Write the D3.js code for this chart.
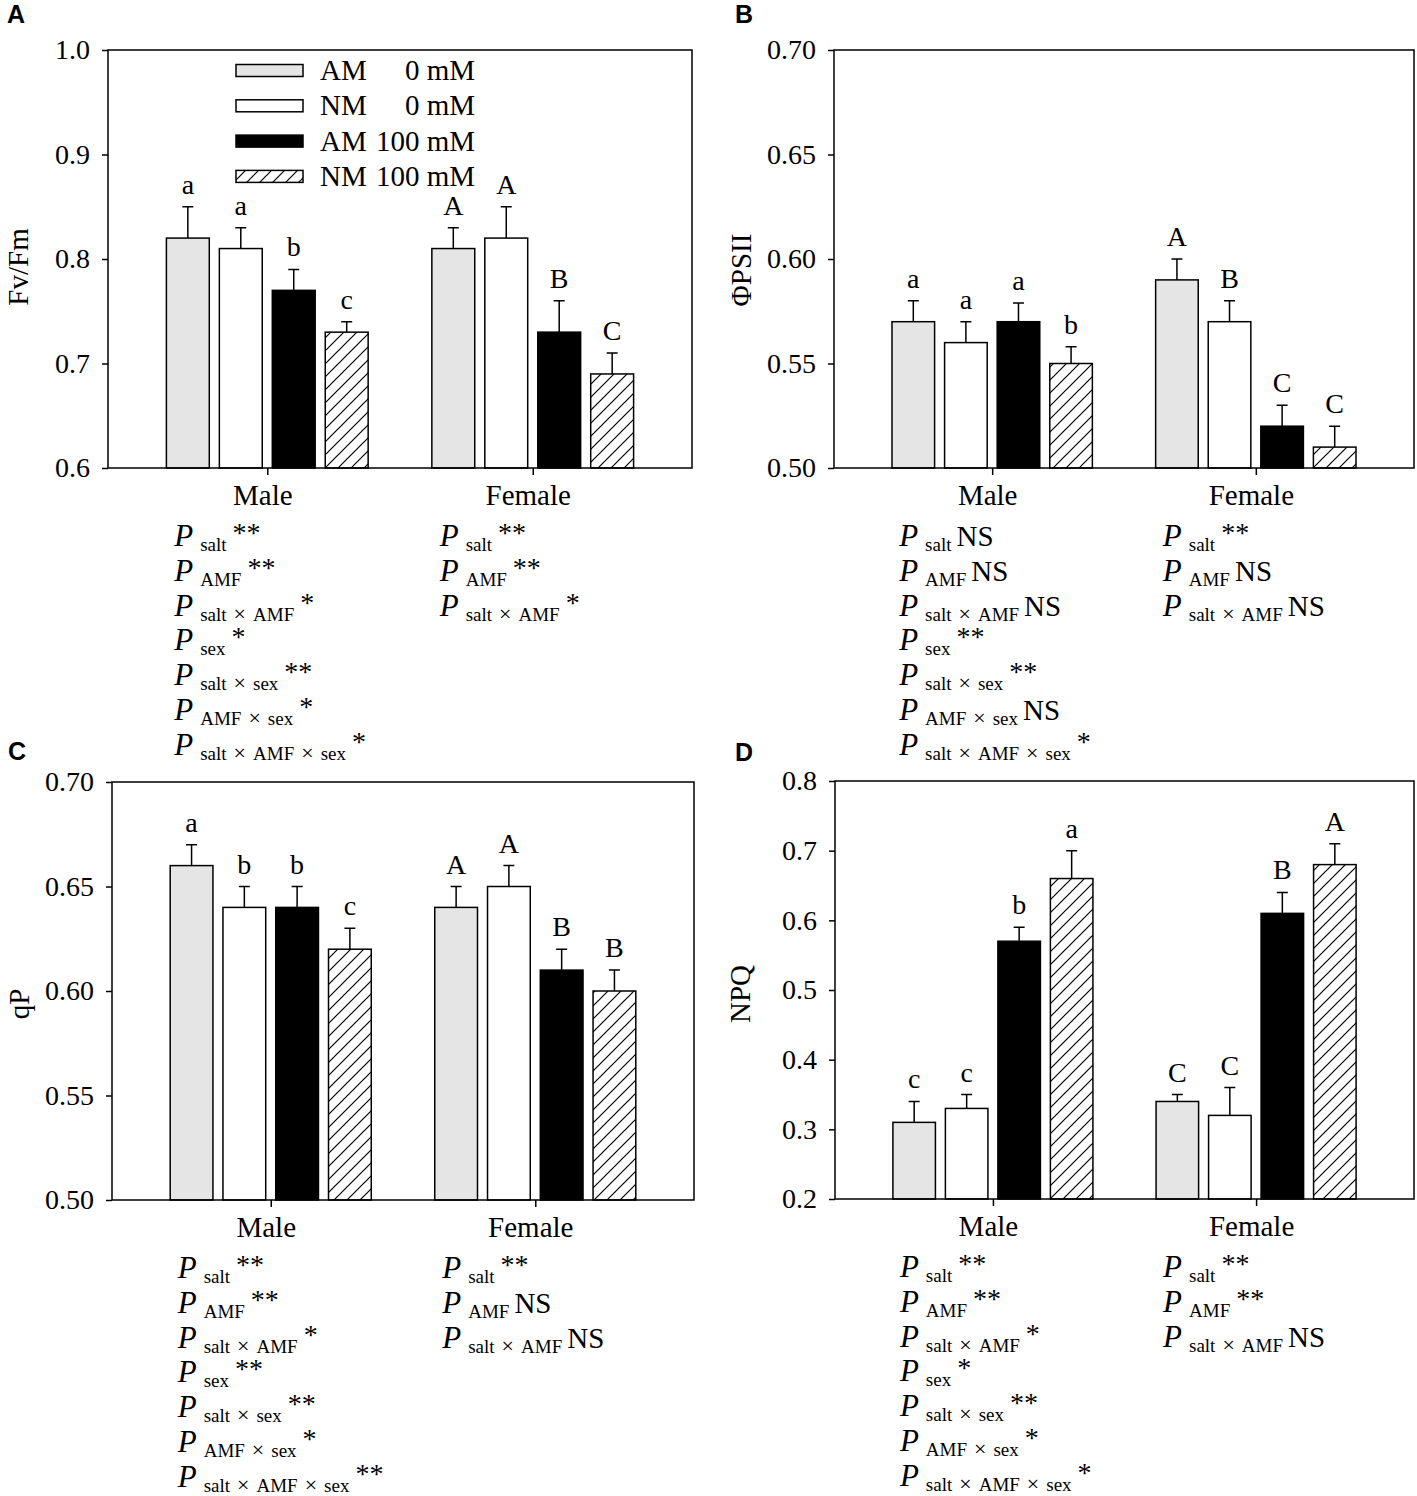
<!DOCTYPE html>
<html>
<head>
<meta charset="utf-8">
<script src="https://cdn.jsdelivr.net/npm/d3@7"></script>
<style>
  body { margin: 0; background: #fff; }
</style>
</head>
<body>
<svg id="fig" width="1417" height="1496"></svg>
<script>
// Categories and treatments
const groups = ["Male", "Female"];
const treatments = ["AM 0 mM", "NM 0 mM", "AM 100 mM", "NM 100 mM"];
const legendNames = ["AM", "NM", "AM", "NM"];
const legendConc = ["0 mM", "0 mM", "100 mM", "100 mM"];
const statTerms = ["salt", "AMF", "salt × AMF", "sex", "salt × sex", "AMF × sex", "salt × AMF × sex"];

// Panel A: Fv/Fm  (rows = Male, Female)
const fvfmMean = [[0.82, 0.81, 0.77, 0.73], [0.81, 0.82, 0.73, 0.69]];
const fvfmErr = [[0.03, 0.02, 0.02, 0.01], [0.02, 0.03, 0.03, 0.02]];
const fvfmLetters = [["a", "a", "b", "c"], ["A", "A", "B", "C"]];
const fvfmTicks = [0.6, 0.7, 0.8, 0.9, 1.0];
const fvfmStats = [["**", "**", "*", "*", "**", "*", "*"], ["**", "**", "*"]];

// Panel B: PhiPSII
const psiiMean = [[0.57, 0.56, 0.57, 0.55], [0.59, 0.57, 0.52, 0.51]];
const psiiErr = [[0.01, 0.01, 0.009, 0.008], [0.01, 0.01, 0.01, 0.01]];
const psiiLetters = [["a", "a", "a", "b"], ["A", "B", "C", "C"]];
const psiiTicks = [0.50, 0.55, 0.60, 0.65, 0.70];
const psiiStats = [["NS", "NS", "NS", "**", "**", "NS", "*"], ["**", "NS", "NS"]];

// Panel C: qP
const qpMean = [[0.66, 0.64, 0.64, 0.62], [0.64, 0.65, 0.61, 0.60]];
const qpErr = [[0.01, 0.01, 0.01, 0.01], [0.01, 0.01, 0.01, 0.01]];
const qpLetters = [["a", "b", "b", "c"], ["A", "A", "B", "B"]];
const qpTicks = [0.50, 0.55, 0.60, 0.65, 0.70];
const qpStats = [["**", "**", "*", "**", "**", "*", "**"], ["**", "NS", "NS"]];

// Panel D: NPQ
const npqMean = [[0.31, 0.33, 0.57, 0.66], [0.34, 0.32, 0.61, 0.68]];
const npqErr = [[0.03, 0.02, 0.02, 0.04], [0.01, 0.04, 0.03, 0.03]];
const npqLetters = [["c", "c", "b", "a"], ["C", "C", "B", "A"]];
const npqTicks = [0.2, 0.3, 0.4, 0.5, 0.6, 0.7, 0.8];
const npqStats = [["**", "**", "*", "*", "**", "*", "*"], ["**", "**", "NS"]];

const serif = "'Liberation Serif', 'Times New Roman', serif";
const sans = "'Liberation Sans', Arial, sans-serif";
const fills = ["#e5e5e5", "#ffffff", "#000000", "url(#hatch)"];

// Panel setup: data + where each panel sits on the page
const panels = [
    {id: "A", title: "Fv/Fm", mean: fvfmMean, err: fvfmErr, letters: fvfmLetters, ticks: fvfmTicks, fmt: ".1f", stats: fvfmStats,
     left: 108, right: 692, top: 50, bottom: 468, labX: 28, labY: 267, tagX: 7, tagY: 23, legend: true},
    {id: "B", title: "ΦPSII", mean: psiiMean, err: psiiErr, letters: psiiLetters, ticks: psiiTicks, fmt: ".2f", stats: psiiStats,
     left: 834, right: 1414, top: 50, bottom: 468, labX: 751, labY: 270, tagX: 735, tagY: 23},
    {id: "C", title: "qP", mean: qpMean, err: qpErr, letters: qpLetters, ticks: qpTicks, fmt: ".2f", stats: qpStats,
     left: 112, right: 694, top: 782, bottom: 1200, labX: 29, labY: 1004, tagX: 8, tagY: 760},
    {id: "D", title: "NPQ", mean: npqMean, err: npqErr, letters: npqLetters, ticks: npqTicks, fmt: ".1f", stats: npqStats,
     left: 835, right: 1414, top: 781, bottom: 1199, labX: 750, labY: 994, tagX: 735, tagY: 761}
];

var svg = d3.select("#fig");

// Hatch pattern for the NM 100 mM bars
var pat = svg.append("defs").append("pattern")
    .attr("id", "hatch")
    .attr("patternUnits", "userSpaceOnUse")
    .attr("width", 13)
    .attr("height", 13);
pat.append("rect").attr("width", 13).attr("height", 13).attr("fill", "#fff");
pat.append("path")
    .attr("d", "M0,13 L13,0 M-3,3 L3,-3 M10,16 L16,10")
    .attr("stroke", "#000")
    .attr("stroke-width", 1.2);

function statLine(g, x, y, term, sig) {
    // P with subscript term and superscript significance
    var t = g.append("text")
        .attr("x", x)
        .attr("y", y)
        .attr("font-family", serif)
        .attr("fill", "#000");
    t.append("tspan").attr("font-style", "italic").attr("font-size", 31).text("P");

    // subscript, the × signs a bit larger and wider spaced like the original
    var parts = term.split(" × ");
    parts.forEach((part, i) => {
        var s = t.append("tspan").attr("font-size", 19).text(part);
        if (i === 0) s.attr("dx", 7).attr("dy", 5);
        else s.attr("dx", 7);
        if (i < parts.length - 1) {
            t.append("tspan").attr("font-size", 22).attr("dx", 7).text("×");
        }
    });

    if (sig === "NS") {
        t.append("tspan").attr("font-size", 29).attr("dx", 5).attr("dy", -5).text("NS");
    } else {
        t.append("tspan").attr("font-size", 28).attr("dx", 6).attr("dy", -9).text(sig);
    }
}

function drawPanel(p) {
    var g = svg.append("g");

    var x = d3.scaleLinear().domain([0.4, 2.6]).range([p.left, p.right]);
    var step = x(2) - x(1);
    var sub = d3.scaleBand()
        .domain(treatments)
        .range([-0.38 * step, 0.38 * step])
        .paddingInner(0.19);
    var y = d3.scaleLinear()
        .domain([p.ticks[0], p.ticks[p.ticks.length - 1]])
        .range([p.bottom, p.top]);

    var rows = [];
    groups.forEach((gr, gi) => {
        treatments.forEach((t, ti) => {
            rows.push({
                group: gi + 1, t: t, ti: ti,
                mean: p.mean[gi][ti], err: p.err[gi][ti], letter: p.letters[gi][ti]
            });
        });
    });
    var bw = sub.bandwidth();
    var cx = d => x(d.group) + sub(d.t) + bw / 2;

    // bars
    g.selectAll(".bar")
        .data(rows)
        .enter()
        .append("rect")
            .attr("x", d => x(d.group) + sub(d.t))
            .attr("y", d => y(d.mean))
            .attr("width", bw)
            .attr("height", d => y(p.ticks[0]) - y(d.mean))
            .attr("fill", d => fills[d.ti])
            .attr("stroke", "#000")
            .attr("stroke-width", 1.5);

    // error bars (upper only)
    g.selectAll(".eb")
        .data(rows)
        .enter()
        .append("path")
            .attr("d", d => {
                var c = cx(d), y0 = y(d.mean), y1 = y(d.mean + d.err);
                return "M" + c + "," + y0 + "V" + y1 + "M" + (c - 5.5) + "," + y1 + "H" + (c + 5.5);
            })
            .attr("fill", "none")
            .attr("stroke", "#000")
            .attr("stroke-width", 1.5);

    // significance letters
    g.selectAll(".lt")
        .data(rows)
        .enter()
        .append("text")
            .attr("x", d => cx(d))
            .attr("y", d => y(d.mean + d.err) - 13)
            .attr("text-anchor", "middle")
            .attr("font-family", serif)
            .attr("font-size", 28)
            .text(d => d.letter);

    // frame
    g.append("rect")
        .attr("x", p.left)
        .attr("y", p.top)
        .attr("width", p.right - p.left)
        .attr("height", p.bottom - p.top)
        .attr("fill", "none")
        .attr("stroke", "#000")
        .attr("stroke-width", 1.5);

    var ya = g.append("g")
        .attr("transform", "translate(" + p.left + ",0)")
        .call(d3.axisLeft(y).tickValues(p.ticks).tickFormat(d3.format(p.fmt)).tickSize(6).tickPadding(12));
    ya.select(".domain").remove();
    ya.selectAll("line").attr("stroke-width", 1.5);
    ya.selectAll("text").attr("font-family", serif).attr("font-size", 28).attr("fill", "#000");

    var xa = g.append("g")
        .attr("transform", "translate(0," + p.bottom + ")")
        .call(d3.axisBottom(x).tickValues([1, 2]).tickFormat(i => groups[i - 1]).tickSize(7).tickPadding(9));
    xa.select(".domain").remove();
    xa.selectAll("line").attr("stroke-width", 1.5);
    xa.selectAll("text").attr("font-family", serif).attr("font-size", 29).attr("fill", "#000").attr("dx", -5);

    // y axis title
    g.append("text")
        .attr("transform", "translate(" + p.labX + "," + p.labY + ") rotate(-90)")
        .attr("text-anchor", "middle")
        .attr("font-family", serif)
        .attr("font-size", 29)
        .text(p.title);

    // panel tag
    g.append("text")
        .attr("x", p.tagX)
        .attr("y", p.tagY)
        .attr("font-family", sans)
        .attr("font-weight", "bold")
        .attr("font-size", 25)
        .text(p.id);

    // ANOVA summary under each group
    p.stats.forEach((list, gi) => {
        list.forEach((sig, k) => {
            statLine(g, x(gi + 1) - 93, p.bottom + 78 + k * 34.8, statTerms[k], sig);
        });
    });

    if (p.legend) {
        var lg = g.append("g");
        treatments.forEach((t, k) => {
            var cy = p.top + 20.5 + k * 35.3;
            lg.append("rect")
                .attr("x", p.left + 128)
                .attr("y", cy - 6)
                .attr("width", 67)
                .attr("height", 12)
                .attr("fill", fills[k])
                .attr("stroke", "#000")
                .attr("stroke-width", 1.5);
            lg.append("text")
                .attr("x", p.left + 212)
                .attr("y", cy + 9.5)
                .attr("font-family", serif)
                .attr("font-size", 29)
                .text(legendNames[k]);
            lg.append("text")
                .attr("x", p.left + 367)
                .attr("y", cy + 9.5)
                .attr("text-anchor", "end")
                .attr("font-family", serif)
                .attr("font-size", 29)
                .text(legendConc[k]);
        });
    }
}

panels.forEach(drawPanel);
</script>
</body>
</html>
